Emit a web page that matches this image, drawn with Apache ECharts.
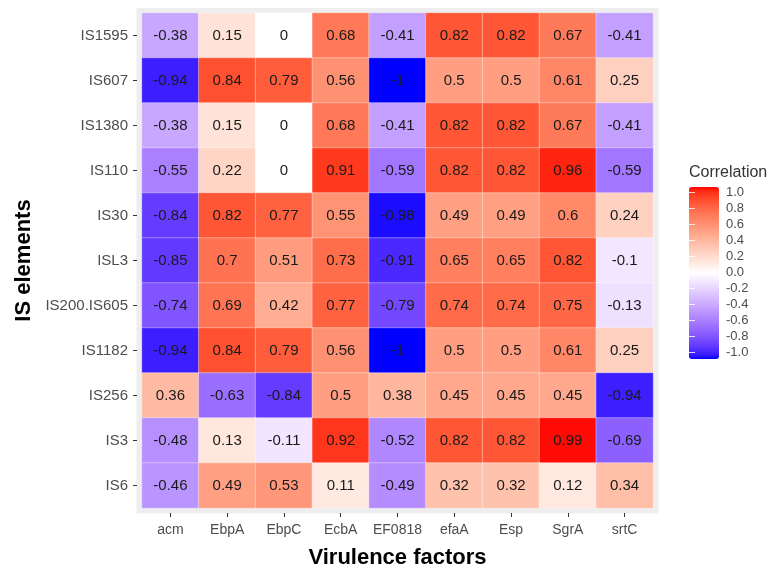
<!DOCTYPE html>
<html>
<head>
<meta charset="utf-8">
<script src="https://cdn.jsdelivr.net/npm/echarts@6/dist/echarts.min.js"></script>
<style>
html,body{margin:0;padding:0;background:#fff;}
#chart{width:772px;height:571px;}
</style>
</head>
<body>
<div id="chart"></div>
<script>
const virulenceFactors = ['acm','EbpA','EbpC','EcbA','EF0818','efaA','Esp','SgrA','srtC'];
const isElements = ['IS1595','IS607','IS1380','IS110','IS30','ISL3','IS200.IS605','IS1182','IS256','IS3','IS6'];
const rowIS1595     = [-0.38, 0.15, 0,     0.68, -0.41, 0.82, 0.82, 0.67, -0.41];
const rowIS607      = [-0.94, 0.84, 0.79,  0.56, -1,    0.5,  0.5,  0.61,  0.25];
const rowIS1380     = [-0.38, 0.15, 0,     0.68, -0.41, 0.82, 0.82, 0.67, -0.41];
const rowIS110      = [-0.55, 0.22, 0,     0.91, -0.59, 0.82, 0.82, 0.96, -0.59];
const rowIS30       = [-0.84, 0.82, 0.77,  0.55, -0.98, 0.49, 0.49, 0.6,   0.24];
const rowISL3       = [-0.85, 0.7,  0.51,  0.73, -0.91, 0.65, 0.65, 0.82, -0.1];
const rowIS200IS605 = [-0.74, 0.69, 0.42,  0.77, -0.79, 0.74, 0.74, 0.75, -0.13];
const rowIS1182     = [-0.94, 0.84, 0.79,  0.56, -1,    0.5,  0.5,  0.61,  0.25];
const rowIS256      = [0.36, -0.63, -0.84, 0.5,   0.38, 0.45, 0.45, 0.45, -0.94];
const rowIS3        = [-0.48, 0.13, -0.11, 0.92, -0.52, 0.82, 0.82, 0.99, -0.69];
const rowIS6        = [-0.46, 0.49, 0.53,  0.11, -0.49, 0.32, 0.32, 0.12,  0.34];
const legendTicks = [1.0, 0.8, 0.6, 0.4, 0.2, 0.0, -0.2, -0.4, -0.6, -0.8, -1.0];

const rows = [rowIS1595,rowIS607,rowIS1380,rowIS110,rowIS30,rowISL3,rowIS200IS605,rowIS1182,rowIS256,rowIS3,rowIS6];
const data = [];
rows.forEach((r, yi) => r.forEach((v, xi) => data.push([xi, yi, v])));

// Lab-space diverging gradient (blue - white - red), like ggplot2 scale_fill_gradient2
function lin(c){c/=255;return c<=0.04045?c/12.92:Math.pow((c+0.055)/1.055,2.4);}
function delin(c){c=c<=0.0031308?12.92*c:1.055*Math.pow(c,1/2.4)-0.055;return Math.max(0,Math.min(255,Math.round(c*255)));}
const Xn=0.95047,Yn=1,Zn=1.08883;
function f(t){return t>0.008856?Math.cbrt(t):7.787*t+16/116;}
function finv(t){return t>0.206893?t*t*t:(t-16/116)/7.787;}
function toLab(rgb){
  const R=lin(rgb[0]),G=lin(rgb[1]),B=lin(rgb[2]);
  const X=0.4124*R+0.3576*G+0.1805*B, Y=0.2126*R+0.7152*G+0.0722*B, Z=0.0193*R+0.1192*G+0.9505*B;
  const fx=f(X/Xn),fy=f(Y/Yn),fz=f(Z/Zn);
  return [116*fy-16,500*(fx-fy),200*(fy-fz)];
}
function fromLab(lab){
  const fy=(lab[0]+16)/116, fx=fy+lab[1]/500, fz=fy-lab[2]/200;
  const X=Xn*finv(fx),Y=Yn*finv(fy),Z=Zn*finv(fz);
  const R=3.2406*X-1.5372*Y-0.4986*Z, G=-0.9689*X+1.8758*Y+0.0415*Z, B=0.0557*X-0.2040*Y+1.0570*Z;
  return 'rgb('+delin(R)+','+delin(G)+','+delin(B)+')';
}
const lowLab=toLab([0,0,255]), midLab=toLab([255,255,255]), highLab=toLab([255,0,0]);
const stops=[];
const N=60;
for(let i=0;i<=N;i++){
  const t=i/N;
  let a,b,s;
  if(t<=0.5){a=lowLab;b=midLab;s=t/0.5;}else{a=midLab;b=highLab;s=(t-0.5)/0.5;}
  stops.push(fromLab([a[0]+(b[0]-a[0])*s,a[1]+(b[1]-a[1])*s,a[2]+(b[2]-a[2])*s]));
}

const FONT = '"Liberation Sans", Arial, Helvetica, sans-serif';
const chart = echarts.init(document.getElementById('chart'), null, {renderer:'canvas'});
chart.setOption({
  animation:false,
  backgroundColor:'#ffffff',
  graphic:[
    {type:'rect',z:-10,shape:{x:136.5,y:8,width:522,height:505.5},style:{fill:'#EEEEEE'},silent:true},
    {type:'text',left:689,top:165,style:{text:'Correlation',fontSize:16,fill:'#333333',fontFamily:FONT},silent:true}
  ],
  grid:[
    {left:142,top:13,right:119,bottom:63,containLabel:false,outerBoundsMode:'none'},
    {left:689,top:192.7,width:30,height:160,containLabel:false,outerBoundsMode:'none'}
  ],
  xAxis:[
    {type:'category',gridIndex:0,data:virulenceFactors,offset:5,
     axisLine:{show:false},axisTick:{show:true,alignWithLabel:true,length:4,lineStyle:{color:'#333333'}},
     axisLabel:{color:'#4D4D4D',fontSize:14,fontFamily:FONT,margin:10,interval:0},
     splitLine:{show:false},
     name:'Virulence factors',nameLocation:'middle',nameGap:34,
     nameTextStyle:{fontSize:22,fontWeight:'bold',color:'#000',fontFamily:FONT}},
    {type:'value',gridIndex:1,show:false,min:0,max:1}
  ],
  yAxis:[
    {type:'category',gridIndex:0,data:isElements,inverse:true,offset:5,
     axisLine:{show:false},axisTick:{show:true,alignWithLabel:true,length:4,lineStyle:{color:'#333333'}},
     axisLabel:{color:'#4D4D4D',fontSize:15,fontFamily:FONT,margin:9,interval:0},
     splitLine:{show:false},
     name:'IS elements',nameLocation:'middle',nameGap:102,nameRotate:90,
     nameTextStyle:{fontSize:22,fontWeight:'bold',color:'#000',fontFamily:FONT}},
    {type:'value',gridIndex:1,min:-1,max:1,interval:0.2,position:'right',z:10,
     axisLine:{show:false},splitLine:{show:false},
     axisTick:{show:true,inside:true,length:6,lineStyle:{color:'rgba(255,255,255,0.8)'}},
     axisLabel:{show:true,margin:7,color:'#4D4D4D',fontSize:13,fontFamily:FONT,
       formatter:v=>{const m=legendTicks.find(t=>Math.abs(t-v)<1e-6);return m===undefined?'':m.toFixed(1);}}},
    {type:'value',gridIndex:1,min:-1,max:1,interval:0.2,position:'left',z:10,
     axisLine:{show:false},splitLine:{show:false},axisLabel:{show:false},
     axisTick:{show:true,inside:true,length:6,lineStyle:{color:'rgba(255,255,255,0.8)'}}}
  ],
  visualMap:{
    type:'continuous',min:-1,max:1,calculable:false,hoverLink:false,
    seriesIndex:0,orient:'vertical',left:674,top:172,itemWidth:30,itemHeight:172,
    showLabel:false,text:null,
    inRange:{color:stops}
  },
  series:[{
    type:'heatmap',xAxisIndex:0,yAxisIndex:0,data:data,
    itemStyle:{borderColor:'rgba(255,255,255,0.35)',borderWidth:1},
    label:{show:true,color:'#1A1A1A',fontSize:15,fontFamily:FONT,formatter:p=>String(p.value[2])},
    emphasis:{disabled:true}
  }]
});
</script>
</body>
</html>
